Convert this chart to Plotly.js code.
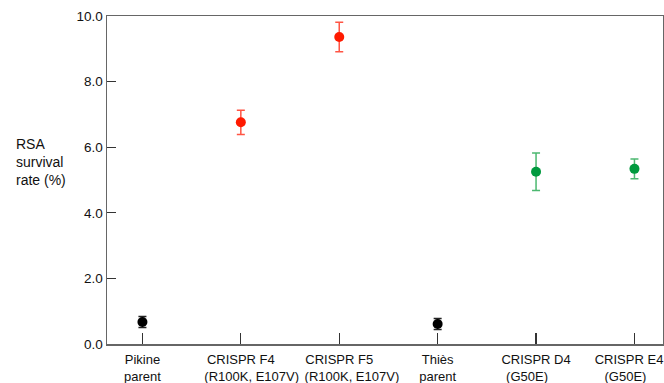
<!DOCTYPE html>
<html>
<head>
<meta charset="utf-8">
<script src="https://cdn.plot.ly/plotly-3.0.1.min.js"></script>
<style>html,body{margin:0;padding:0;background:#fff;}#chart{width:664px;height:383px;}</style>
</head>
<body>
<div id="chart"></div>
<script>
var strains = ["Pikine parent", "CRISPR F4 (R100K, E107V)", "CRISPR F5 (R100K, E107V)", "Thiès parent", "CRISPR D4 (G50E)", "CRISPR E4 (G50E)"];
var tickLabels = ["Pikine<br>parent", "CRISPR F4<br>\u00a0\u00a0\u00a0\u00a0\u00a0\u00a0(R100K, E107V)", "CRISPR F5<br>\u00a0\u00a0\u00a0\u00a0\u00a0\u00a0\u00a0(R100K, E107V)", "Thiès<br>parent", "CRISPR D4<br>(G50E)\u00a0\u00a0\u00a0\u00a0\u00a0", "CRISPR E4\u00a0\u00a0\u00a0<br>(G50E)\u00a0\u00a0\u00a0\u00a0\u00a0"];
var survival = [0.67, 6.76, 9.36, 0.61, 5.25, 5.34];
var errorSD = [0.17, 0.37, 0.45, 0.17, 0.57, 0.30];
var group = ["parent", "F", "F", "parent", "G", "G"];
var yTicks = [0, 2, 4, 6, 8, 10];
var yTickText = ["0.0", "2.0", "4.0", "6.0", "8.0", "10.0"];

var styles = {
  parent: {marker: "#000000", bar: "#222222"},
  F: {marker: "#ff1a00", bar: "#ff5544"},
  G: {marker: "#009a3e", bar: "#4cb870"}
};

var traces = Object.keys(styles).map(function (g) {
  var xs = [], ys = [], es = [];
  strains.forEach(function (s, i) {
    if (group[i] === g) { xs.push(i); ys.push(survival[i]); es.push(errorSD[i]); }
  });
  return {
    type: "scatter", mode: "markers", x: xs, y: ys,
    marker: {color: styles[g].marker, size: 10},
    error_y: {type: "data", array: es, visible: true, color: styles[g].bar, thickness: 1.5, width: 4},
    hoverinfo: "skip", showlegend: false, cliponaxis: false
  };
});

var layout = {
  width: 664, height: 383,
  margin: {l: 107, r: 1, t: 16, b: 39},
  paper_bgcolor: "#fff", plot_bgcolor: "#fff",
  font: {family: "Liberation Sans, Arial, Helvetica, sans-serif", size: 13, color: "#111"},
  xaxis: {
    range: [-0.36, 5.29], tickmode: "array", tickvals: strains.map(function (s, i) { return i; }),
    ticktext: tickLabels, tickangle: 0, ticks: "inside", ticklen: 11, tickwidth: 1.2, tickcolor: "#333",
    showline: true, linecolor: "#666", linewidth: 1.5, mirror: true,
    showgrid: false, zeroline: false, tickfont: {size: 13, color: "#111"},
    ticklabeloverflow: "allow", ticklabelstandoff: 3
  },
  yaxis: {
    range: [0, 10], tickmode: "array", tickvals: yTicks, ticktext: yTickText,
    ticks: "inside", ticklen: 9, tickwidth: 1.2, tickcolor: "#333",
    showline: true, linecolor: "#666", linewidth: 1.5, mirror: true,
    showgrid: false, zeroline: false, tickfont: {size: 13.5, color: "#111"}
  },
  annotations: [{
    text: "RSA<br>survival<br>rate (%)", xref: "paper", yref: "paper",
    x: -0.168, y: 0.555, xanchor: "left", yanchor: "middle", align: "left",
    showarrow: false, font: {size: 14, color: "#111"}
  }]
};

Plotly.newPlot("chart", traces, layout, {displayModeBar: false, staticPlot: true});
</script>
</body>
</html>
